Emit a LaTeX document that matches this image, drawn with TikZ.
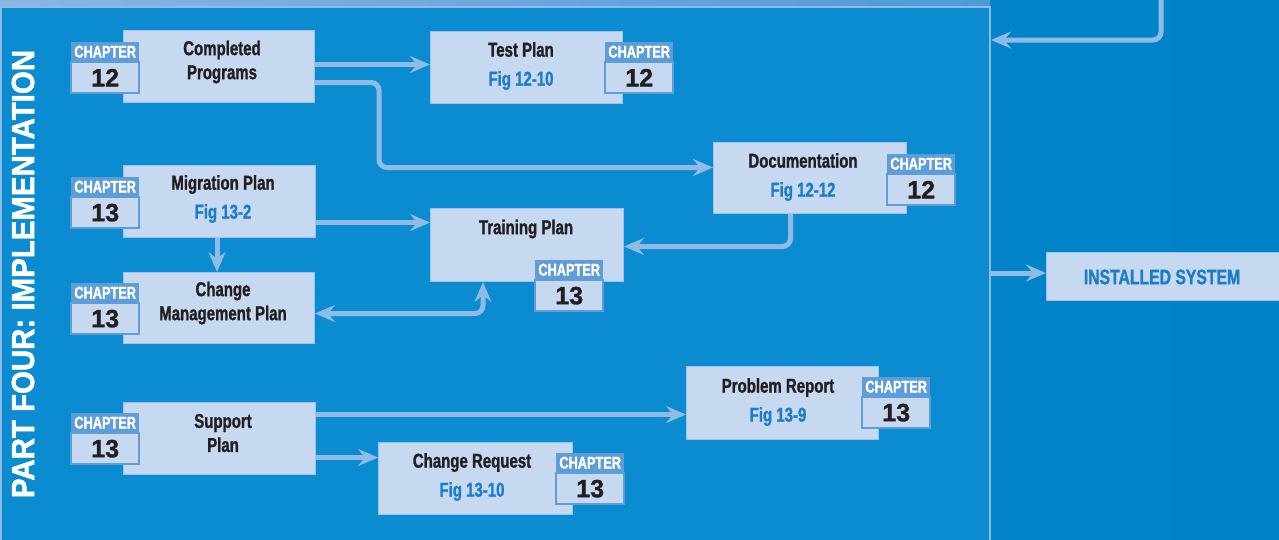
\documentclass[tikz,border=0pt]{standalone}
\usepackage{fontspec}
\setmainfont{Liberation Sans}[UprightFont={Liberation Sans Bold}, BoldFont={Liberation Sans Bold}, FakeStretch=0.75, FakeBold=1.2]
\newfontfamily\numfont{Liberation Sans}[UprightFont={Liberation Sans Bold}, BoldFont={Liberation Sans Bold}, FakeBold=1.2]
\newfontfamily\vfont{Liberation Sans}[UprightFont={Liberation Sans Bold}, BoldFont={Liberation Sans Bold}, FakeStretch=0.92, FakeBold=1.5]
\usetikzlibrary{arrows.meta,calc}
\definecolor{panelblue}{HTML}{0B8BD0}
\definecolor{outside}{HTML}{0788CE}
\definecolor{outsideR}{HTML}{0082C8}
\definecolor{boxfill}{HTML}{C6D9F1}
\definecolor{boxline}{HTML}{9DC3EA}
\definecolor{arrowc}{HTML}{8FBBE6}
\definecolor{tabhead}{HTML}{5E9DD8}
\definecolor{figblue}{HTML}{1C7CC7}
\definecolor{textblack}{HTML}{231F20}
\definecolor{panelline}{HTML}{8DBAE6}
\definecolor{bandL}{HTML}{8AB6E2}
\definecolor{bandR}{HTML}{4F9AD6}
\tikzset{
  box/.style={draw=boxline, line width=1pt, fill=boxfill, anchor=north west, inner sep=0pt},
  tabhd/.style={fill=tabhead, anchor=north west, minimum width=68pt, minimum height=19pt, inner sep=0pt,
    font=\fontsize{17}{17}\selectfont, text=white},
  tabnum/.style={draw=tabhead, line width=1.5pt, fill=boxfill, anchor=north, minimum width=68pt,
    minimum height=31pt, inner sep=0pt, font=\numfont\fontsize{25}{25}\selectfont, text=textblack},
  ttl/.style={font=\fontsize{20}{24}\selectfont, text=textblack, align=center, inner sep=0pt},
  arr/.style={draw=arrowc, line width=5pt, -{Stealth[length=20pt,width=17pt,inset=7pt]}},
  arrtwo/.style={draw=arrowc, line width=5pt, {Stealth[length=20pt,width=17pt,inset=7pt]}-{Stealth[length=20pt,width=17pt,inset=7pt]}}
}
\newcommand{\figl}[1]{\\[5pt]\textcolor{figblue}{#1}}
\begin{document}
\begin{tikzpicture}[x=1pt,y=-1pt]
\useasboundingbox (0,0) rectangle (1279,539);
% background
\shade[left color=outside, right color=outsideR] (0,0) rectangle (1279,539);
\shade[left color=bandL, right color=bandR] (0,0) rectangle (990,7);
\fill[panelblue] (1,7) rectangle (990,560);
\draw[panelline, line width=2.5pt] (1,560) -- (1,7) -- (990,7) -- (990,560);
% vertical title
\node[rotate=90, font=\vfont\fontsize{32}{32}\selectfont, text=white, inner sep=0pt] (title) at (23,274) {PART FOUR: IMPLEMENTATION};
% boxes
\node[box, minimum width=191pt, minimum height=72pt] (cp) at (123,30) {};
\node[box, minimum width=192pt, minimum height=72pt] (tp) at (430,31) {};
\node[box, minimum width=193pt, minimum height=71pt] (doc) at (713,142) {};
\node[box, minimum width=192pt, minimum height=72pt] (mig) at (123,165) {};
\node[box, minimum width=193pt, minimum height=73pt] (tr) at (430,208) {};
\node[box, minimum width=191pt, minimum height=71pt] (cm) at (123,272) {};
\node[box, minimum width=192pt, minimum height=72pt] (sp) at (123,402) {};
\node[box, minimum width=192pt, minimum height=73pt] (pr) at (686,366) {};
\node[box, minimum width=194pt, minimum height=72pt] (cr) at (378,442) {};
\node[box, minimum width=240pt, minimum height=48pt] (inst) at (1046,252) {};
\node[inner sep=0pt, font=\fontsize{21}{21}\selectfont, text=figblue] (inst-t) at (1162,277) {INSTALLED SYSTEM};
% titles
\node[ttl] (cp-t) at (222,62) {Completed\\Programs};
\node[ttl] (tp-t) at (521,66) {Test Plan\figl{Fig 12-10}};
\node[ttl] (doc-t) at (803,177) {Documentation\figl{Fig 12-12}};
\node[ttl] (mig-t) at (223,199) {Migration Plan\figl{Fig 13-2}};
\node[ttl] (tr-t) at (526,229) {Training Plan};
\node[ttl] (cm-t) at (223,303) {Change\\Management Plan};
\node[ttl] (sp-t) at (223,433) {Support\\Plan};
\node[ttl] (pr-t) at (778,402) {Problem Report\figl{Fig 13-9}};
\node[ttl] (cr-t) at (472,477) {Change Request\figl{Fig 13-10}};
% chapter tabs
\node[tabhd] (cp-h) at (71,42) {CHAPTER};
\node[tabnum] (cp-n) at (cp-h.south) {12};
\node[tabhd] (tp-h) at (605,42) {CHAPTER};
\node[tabnum] (tp-n) at (tp-h.south) {12};
\node[tabhd] (doc-h) at (887,154) {CHAPTER};
\node[tabnum] (doc-n) at (doc-h.south) {12};
\node[tabhd] (mig-h) at (71,177) {CHAPTER};
\node[tabnum] (mig-n) at (mig-h.south) {13};
\node[tabhd] (tr-h) at (535,260) {CHAPTER};
\node[tabnum] (tr-n) at (tr-h.south) {13};
\node[tabhd] (cm-h) at (71,283) {CHAPTER};
\node[tabnum] (cm-n) at (cm-h.south) {13};
\node[tabhd] (sp-h) at (71,413) {CHAPTER};
\node[tabnum] (sp-n) at (sp-h.south) {13};
\node[tabhd] (pr-h) at (862,377) {CHAPTER};
\node[tabnum] (pr-n) at (pr-h.south) {13};
\node[tabhd] (cr-h) at (556,453) {CHAPTER};
\node[tabnum] (cr-n) at (cr-h.south) {13};
% connectors
\draw[arr] ([yshift=2pt]cp.east) -- ([yshift=2pt]cp.east -| tp.west);
\draw[arr, rounded corners=8pt] ([yshift=-16pt]cp.east) -- ++(64,0) |- ([yshift=10.5pt]doc.west);
\draw[arr] ([yshift=-21pt]mig.east) -- ([yshift=-21pt]mig.east -| tr.west);
\draw[arr] ([xshift=-2.5pt]mig.south) -- ([xshift=-2.5pt]mig.south |- cm.north);
\draw[arr, rounded corners=8pt] ([xshift=-19.5pt]doc.south) |- ([yshift=-1.5pt]tr.east);
\draw[arrtwo, rounded corners=8pt] ([xshift=-44pt]tr.south) |- ([yshift=-5.5pt]cm.east);
\draw[arr] ([yshift=24pt]sp.east) -- ([yshift=24pt]sp.east -| pr.west);
\draw[arr] ([yshift=-19pt]sp.east) -- ([yshift=-19pt]sp.east -| cr.west);
\coordinate (topin) at (1161,-5);
\coordinate (pin) at (991,40);
\draw[arr, rounded corners=8pt] (topin) |- (pin);
\coordinate (pout) at (990,273);
\draw[arr] (pout) -- (pout -| inst.west);
\end{tikzpicture}
\end{document}
